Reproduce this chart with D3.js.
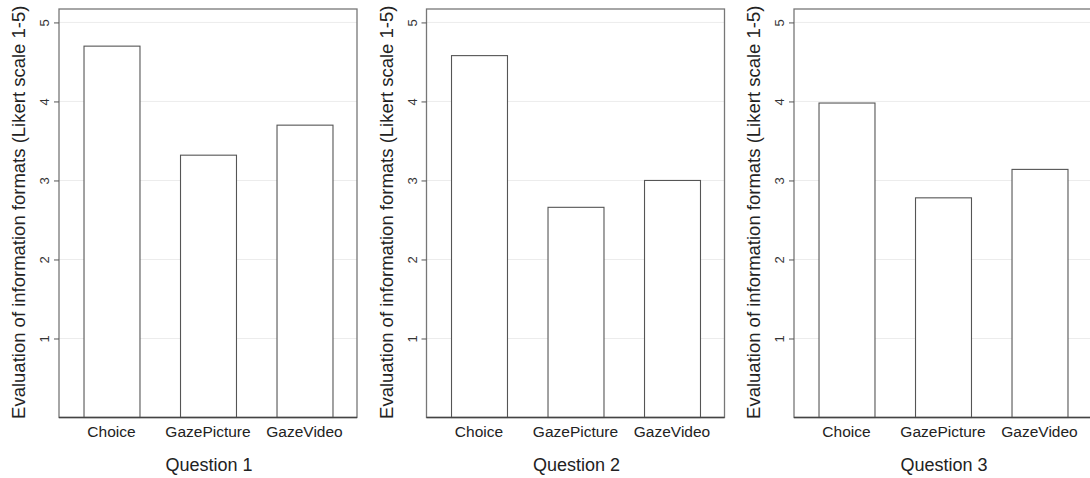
<!DOCTYPE html>
<html>
<head>
<meta charset="utf-8">
<script src="https://cdn.jsdelivr.net/npm/d3@7"></script>
<style>
  html, body { margin: 0; padding: 0; background: #fff; }
  svg { display: block; font-family: "Liberation Sans", Arial, sans-serif; }
</style>
</head>
<body>
<svg id="chart" width="1090" height="478"></svg>
<script>
const categories = ["Choice", "GazePicture", "GazeVideo"];
const panelTitles = ["Question 1", "Question 2", "Question 3"];
const question1 = [4.70, 3.32, 3.70];
const question2 = [4.58, 2.66, 3.00];
const question3 = [3.98, 2.78, 3.14];
const yTicks = [1, 2, 3, 4, 5];
const yLabel = "Evaluation of information formats (Likert scale 1-5)";
const seriesList = [question1, question2, question3];

const svg = d3.select("#chart");
const W = 1090, H = 478;
const panelW = 298, panelTop = 9, panelBottom = 417.5;
const panelLefts = [59, 426.5, 794];

const y = d3.scaleLinear().domain([0, 5.17]).range([panelBottom, panelTop]);
const x = d3.scaleBand().domain(categories).range([0, panelW])
  .paddingInner(0.42).paddingOuter(0.254);

seriesList.forEach((vals, i) => {
  const g = svg.append("g").attr("transform", `translate(${panelLefts[i]},0)`);

  // gridlines
  g.selectAll("line.grid").data(yTicks).join("line")
    .attr("class", "grid")
    .attr("x1", 0).attr("x2", panelW)
    .attr("y1", d => y(d)).attr("y2", d => y(d))
    .attr("stroke", "#ececec").attr("stroke-width", 1);

  // bars
  g.selectAll("rect.bar").data(vals).join("rect")
    .attr("class", "bar")
    .attr("x", (d, j) => x(categories[j]) + 0.5)
    .attr("y", d => y(d))
    .attr("width", x.bandwidth())
    .attr("height", d => panelBottom - y(d))
    .attr("fill", "#fff")
    .attr("stroke", "#555").attr("stroke-width", 1.1);

  // frame
  g.append("rect")
    .attr("x", 0).attr("y", panelTop)
    .attr("width", panelW).attr("height", panelBottom - panelTop)
    .attr("fill", "none").attr("stroke", "#777").attr("stroke-width", 1.3);
  g.append("line")
    .attr("x1", 0).attr("x2", panelW)
    .attr("y1", panelBottom).attr("y2", panelBottom)
    .attr("stroke", "#444").attr("stroke-width", 1.5);

  // y axis
  const yAxis = d3.axisLeft(y).tickValues(yTicks).tickSize(5).tickPadding(4)
    .tickFormat(d3.format("d"));
  const ya = g.append("g").call(yAxis);
  ya.select(".domain").remove();
  ya.selectAll(".tick line").attr("stroke", "#555");
  ya.selectAll(".tick text")
    .attr("font-size", 13)
    .attr("fill", "#333")
    .attr("font-family", "Liberation Sans, Arial, sans-serif")
    .attr("transform", "rotate(-90)")
    .attr("x", 0).attr("y", -10)
    .attr("dy", "0")
    .attr("text-anchor", "middle");

  // x axis labels
  const xAxis = d3.axisBottom(x).tickSize(0).tickPadding(0);
  const xa = g.append("g").attr("transform", `translate(0,${panelBottom})`).call(xAxis);
  xa.select(".domain").remove();
  xa.selectAll(".tick text")
    .attr("font-size", 15.5)
    .attr("fill", "#222")
    .attr("font-family", "Liberation Sans, Arial, sans-serif")
    .attr("y", 19.5).attr("dy", "0");

  // panel title
  g.append("text")
    .attr("x", panelW / 2 + 1).attr("y", 471)
    .attr("text-anchor", "middle")
    .attr("font-size", 18)
    .attr("fill", "#222")
    .text(panelTitles[i]);

  // y label
  g.append("text")
    .attr("transform", `translate(-34,${(panelTop + panelBottom) / 2 - 1}) rotate(-90)`)
    .attr("text-anchor", "middle")
    .attr("font-size", 18.5)
    .attr("fill", "#222")
    .text(yLabel);
});
</script>
</body>
</html>
